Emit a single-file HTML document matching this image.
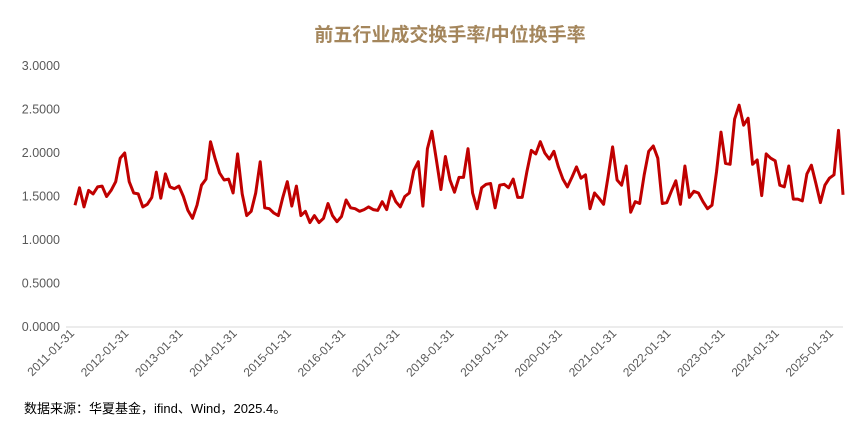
<!DOCTYPE html>
<html><head><meta charset="utf-8"><style>
html,body{margin:0;padding:0;background:#fff;}
svg{display:block;font-family:"Liberation Sans","Noto Sans CJK SC",sans-serif;}
</style></head><body>
<svg id="chart" width="865" height="428" viewBox="0 0 865 428">
<text x="450" y="41" text-anchor="middle" font-size="19" font-weight="bold" fill="#a4865c" font-family="'Liberation Sans','Noto Sans CJK SC',sans-serif">前五行业成交换手率/中位换手率</text>
<g id="yaxis"></g>
<g id="xaxis"></g>
<line x1="66" y1="327" x2="843" y2="327" stroke="#d9d9d9" stroke-width="1"/>
<path id="line" fill="none" stroke="#c00000" stroke-width="3" stroke-linejoin="round"/>
<text x="24" y="413" font-size="13" fill="#000">数据来源：华夏基金，ifind、Wind，2025.4。</text>
</svg>
<script>
const yTicks = [0, 0.5, 1.0, 1.5, 2.0, 2.5, 3.0];
const xTickLabels = ["2011-01-31","2012-01-31","2013-01-31","2014-01-31","2015-01-31","2016-01-31","2017-01-31","2018-01-31","2019-01-31","2020-01-31","2021-01-31","2022-01-31","2023-01-31","2024-01-31","2025-01-31"];
const values = [
1.40,1.60,1.38,1.57,1.53,1.61,1.62,1.50,1.57,1.67,1.94,2.00,1.67,1.54,1.53,1.38,1.41,1.49,1.78,1.48,1.76,1.61,1.59,1.62,1.50,1.34,1.25,1.40,1.63,1.70,2.13,1.94,1.77,1.69,1.70,1.54,1.99,1.53,1.28,1.33,1.54,1.90,1.37,1.36,1.31,1.28,1.49,1.67,1.39,1.62,1.28,1.33,1.20,1.28,1.20,1.25,1.42,
1.28,1.21,1.27,1.46,1.37,1.36,1.33,1.35,1.38,1.35,1.34,1.44,1.35,1.56,1.44,1.38,1.50,1.54,1.80,1.90,1.39,2.05,2.25,1.92,1.58,1.96,1.69,1.55,1.72,1.72,2.05,1.54,1.36,1.60,1.64,1.65,1.37,1.63,1.64,1.60,1.70,1.49,1.49,1.78,2.03,1.99,2.13,2.00,1.93,2.02,1.84,1.70,1.61,1.72,1.84,1.71,1.75,1.36,
1.54,1.48,1.41,1.73,2.07,1.69,1.63,1.85,1.32,1.44,1.42,1.75,2.02,2.08,1.94,1.42,1.43,1.56,1.68,1.41,1.85,1.49,1.56,1.54,1.44,1.36,1.40,1.78,2.24,1.88,1.87,2.39,2.55,2.32,2.40,1.87,1.92,1.51,1.99,1.94,1.91,1.63,1.61,1.85,1.47,1.47,1.45,1.76,1.86,1.65,1.43,1.63,1.71,1.75,2.26,1.52
];
const X0 = 75, X1 = 843, YB = 327, YT = 66;
function xScale(i){ return X0 + i*(X1-X0)/(values.length-1); }
function yScale(v){ return YB - v*(YB-YT)/3; }
const NS = "http://www.w3.org/2000/svg";
const ya = document.getElementById('yaxis');
yTicks.forEach(t=>{
  const tx = document.createElementNS(NS,'text');
  tx.setAttribute('x', 60); tx.setAttribute('y', yScale(t)+4);
  tx.setAttribute('text-anchor','end'); tx.setAttribute('font-size','12.5'); tx.setAttribute('fill','#595959');
  tx.textContent = t.toFixed(4);
  
  
  ya.appendChild(tx);
});
const xa = document.getElementById('xaxis');
xTickLabels.forEach((l,k)=>{
  const x = xScale(k*12), y = 334;
  const tx = document.createElementNS(NS,'text');
  tx.setAttribute('x', x); tx.setAttribute('y', y);
  tx.setAttribute('text-anchor','end'); tx.setAttribute('font-size','12'); tx.setAttribute('fill','#595959');
  tx.setAttribute('transform','rotate(-45 '+x+' '+y+')');
  tx.textContent = l;
  
  
  xa.appendChild(tx);
});
document.getElementById('line').setAttribute('d', values.map((v,i)=>(i?'L':'M')+xScale(i).toFixed(1)+' '+yScale(v).toFixed(1)).join(' '));
</script>
</body></html>
